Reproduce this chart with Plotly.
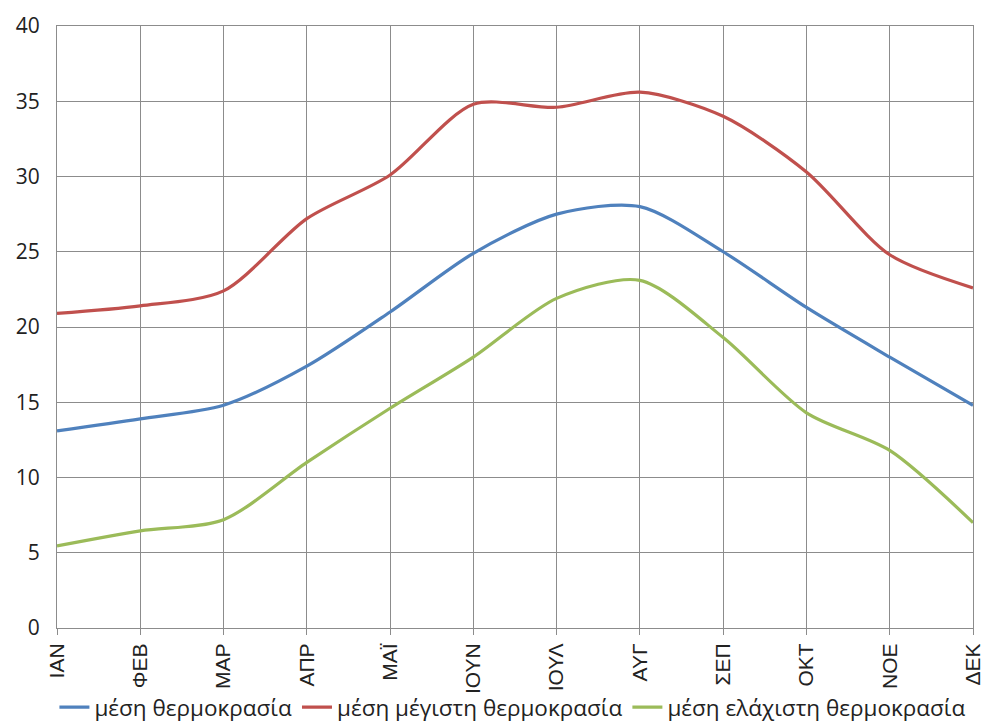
import plotly.graph_objects as go

months = ["ΙΑΝ", "ΦΕΒ", "ΜΑΡ", "ΑΠΡ", "ΜΑΪ", "ΙΟΥΝ", "ΙΟΥΛ", "ΑΥΓ", "ΣΕΠ", "ΟΚΤ", "ΝΟΕ", "ΔΕΚ"]
mean_temp = [13.1, 13.9, 14.8, 17.4, 21.0, 24.9, 27.5, 28.0, 25.0, 21.3, 18.0, 14.8]
max_temp = [20.9, 21.4, 22.4, 27.2, 30.1, 34.8, 34.6, 35.6, 34.0, 30.3, 24.8, 22.6]
min_temp = [5.45, 6.45, 7.2, 11.0, 14.6, 18.0, 21.9, 23.1, 19.3, 14.3, 11.8, 7.0]
y_ticks = [0, 5, 10, 15, 20, 25, 30, 35, 40]

series = [
    ("μέση θερμοκρασία", mean_temp, "#4F81BD"),
    ("μέση μέγιστη θερμοκρασία", max_temp, "#C0504D"),
    ("μέση ελάχιστη θερμοκρασία", min_temp, "#9BBB59"),
]

fig = go.Figure()
for name, vals, color in series:
    fig.add_trace(go.Scatter(
        x=months, y=vals, name=name, mode="lines",
        line=dict(color=color, width=3.2, shape="spline", smoothing=0.8),
    ))

grid = "#8C8C8C"
fig.update_layout(
    width=995, height=725,
    margin=dict(l=57, r=22, t=26, b=97),
    paper_bgcolor="white", plot_bgcolor="white",
    font=dict(family="Open Sans, Noto Sans, sans-serif", size=21, color="#222222"),
    showlegend=True,
    legend=dict(orientation="h", xref="container", x=0.515, xanchor="center",
                yref="container", y=0.024, yanchor="middle",
                font=dict(size=22.5), tracegroupgap=0,
                bgcolor="rgba(0,0,0,0)"),
    xaxis=dict(
        range=[0, 11], showgrid=True, gridcolor=grid, gridwidth=1,
        showline=True, linecolor=grid, mirror=True,
        ticks="outside", ticklen=6, tickcolor=grid, tickangle=-90,
        tickfont=dict(size=21, family="Liberation Sans, Arial, sans-serif"),
        zeroline=False, automargin=False,
    ),
    yaxis=dict(
        range=[0, 40], tickvals=y_ticks, showgrid=True, gridcolor=grid, gridwidth=1,
        showline=True, linecolor=grid, mirror=True, ticks="", ticklen=0,
        ticklabelstandoff=12,
        tickfont=dict(size=21), zeroline=False, automargin=False,
    ),
)

fig.write_html("out.html")
